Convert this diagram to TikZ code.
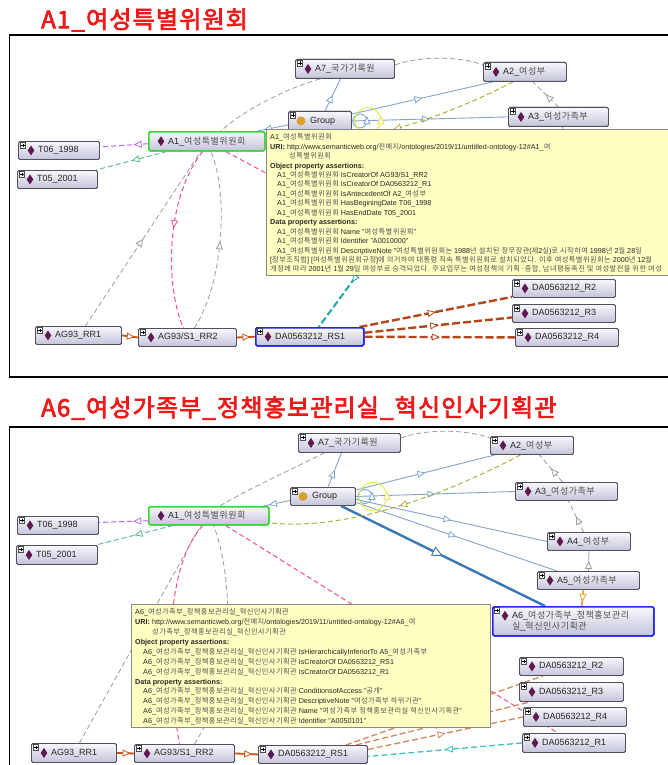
\documentclass[tikz,border=0pt]{standalone}
\usepackage{fontspec}
\setmainfont{Liberation Sans}
\newfontfamily\krf{Noto Sans CJK KR}[LetterSpace=6]
\newfontfamily\krtitle{Noto Sans CJK KR}[FakeBold=3,LetterSpace=5]
\usetikzlibrary{arrows.meta,decorations.markings}
\definecolor{cedgeblue}{HTML}{7EA6CE}
\definecolor{cthickblue}{HTML}{3A78B4}
\definecolor{cgreyd}{HTML}{9C9C9C}
\definecolor{colive}{HTML}{B3AE3C}
\definecolor{cpurp}{HTML}{C065E6}
\definecolor{cgreen}{HTML}{5CC08A}
\definecolor{cpink}{HTML}{F2508E}
\definecolor{cyellow}{HTML}{E2EE3A}
\definecolor{cbrown}{HTML}{B4461C}
\definecolor{cbrownl}{HTML}{D4865E}
\definecolor{corange}{HTML}{F0A028}
\definecolor{cteal}{HTML}{1BA8A8}
\definecolor{cteall}{HTML}{3EC0C4}
\definecolor{cnodetop}{HTML}{F7F7FD}
\definecolor{cnodebot}{HTML}{C4C4DA}
\definecolor{cnodeborder}{HTML}{50505F}
\definecolor{cselgreen}{HTML}{39D739}
\definecolor{cselblue}{HTML}{2626F2}
\definecolor{cdia}{HTML}{5E1A50}
\definecolor{cgrp}{HTML}{D9A22E}
\definecolor{ctipfill}{HTML}{FFFFC2}
\definecolor{ctipborder}{HTML}{8A8A8A}
\definecolor{ctitlered}{HTML}{F01818}
\definecolor{ckrgray}{HTML}{505050}
\newcommand\kr[1]{{\krf\color{ckrgray}#1}}
\newcommand\tAone{A1\_\kr{여성특별위원회}}
\newcommand\tAsix{A6\_\kr{여성가족부}\_\kr{정책홍보관리실}\_\kr{혁신인사기획관}}
\tikzset{
  indbox/.style={draw=cnodeborder,line width=0.9pt,rounded corners=1.5pt,top color=cnodetop,bottom color=cnodebot,inner sep=0pt,anchor=north west},
  lbl/.style={anchor=west,inner sep=0pt,font=\fontsize{9}{11}\selectfont,text=black!85},
  tri/.style={postaction={decorate,decoration={markings,mark=at position #1 with {\pgfsetdash{}{0pt}\arrow{Triangle[length=8pt,width=7pt,line width=0.8pt,fill=white]}}}}},
  tri/.default=0.5,
  trib/.style={postaction={decorate,decoration={markings,mark=at position #1 with {\pgfsetdash{}{0pt}\arrow{Triangle[length=11pt,width=10pt,line width=0.9pt,fill=white]}}}}},
  trib/.default=0.5,
  blueE/.style={draw=cedgeblue,line width=0.9pt},
  blueT/.style={draw=cthickblue,line width=2.4pt},
  greyD/.style={draw=cgreyd,line width=0.8pt,dash pattern=on 5pt off 3pt},
  greyS/.style={draw=cgreyd,line width=0.8pt},
  oliveD/.style={draw=colive,line width=1pt,dash pattern=on 5pt off 3pt},
  purpD/.style={draw=cpurp,line width=1pt,dash pattern=on 5pt off 3pt},
  greenD/.style={draw=cgreen,line width=1pt,dash pattern=on 5pt off 3pt},
  pinkD/.style={draw=cpink,line width=1pt,dash pattern=on 5pt off 3pt},
  brownT/.style={draw=cbrown,line width=2.4pt,dash pattern=on 8pt off 3pt},
  brownLd/.style={draw=cbrownl,line width=1.3pt,dash pattern=on 6pt off 3pt},
  brownS/.style={draw=cbrown!75!orange,line width=1.8pt},
  tealD/.style={draw=cteal,line width=2pt,dash pattern=on 7pt off 3pt},
  tealLd/.style={draw=cteall,line width=1.3pt,dash pattern=on 6pt off 3pt},
  orangeE/.style={draw=corange,line width=1.6pt},
  yellowE/.style={draw=cyellow,line width=0.9pt},
  tipbox/.style={draw=ctipborder,fill=ctipfill,line width=1.2pt,anchor=north west,inner sep=0pt},
  frame/.style={draw=black,line width=1.6pt},
  titlest/.style={anchor=west,inner sep=0pt,text=ctitlered,font=\krtitle\fontsize{24}{28}\selectfont}
}
\newcommand\plusmark[1]{%
  \draw[draw=black!70,line width=0.4pt,fill=white] ([shift={(2pt,-1.5pt)}]#1.north west) rectangle +(5.5pt,-5.5pt);
  \draw[black,line width=0.5pt] ([shift={(4.75pt,-2.5pt)}]#1.north west) -- +(0pt,-3.5pt) ([shift={(3pt,-4.25pt)}]#1.north west) -- +(3.5pt,0pt);}
\newcommand\ind[7][]{%
  \node[indbox,minimum width=#5pt,minimum height=#6pt,#1] (#2) at (#3,#4) {};
  \fill[cdia] ([xshift=13pt]#2.west) +(0pt,5pt) -- +(3.3pt,0pt) -- +(0pt,-5pt) -- +(-3.3pt,0pt) -- cycle;
  \node[lbl] (#2-l) at ([xshift=20pt]#2.west) {#7};}
\newcommand\grp[5]{%
  \node[indbox,minimum width=#4pt,minimum height=#5pt] (#1) at (#2,#3) {};
  \fill[cgrp] ([xshift=13pt]#1.west) circle (4.5pt);
  \node[lbl] (#1-l) at ([xshift=22pt]#1.west) {Group};
  \plusmark{#1}}
\begin{document}
\begin{tikzpicture}[x=1pt,y=-1pt]
\useasboundingbox (0,0) rectangle (668,765);
\clip (0,0) rectangle (668,765);
\fill[white] (0,0) rectangle (668,765);
% ---------------- titles and frames
\node[titlest] (title1) at (41,20) {A1\_여성특별위원회};
\node[titlest] (title2) at (41,408) {A6\_여성가족부\_정책홍보관리실\_혁신인사기획관};
\draw[frame] (9.5,35) rectangle (690,377);
\draw[frame] (9.5,427) rectangle (690,790);

\coordinate (r1h) at (385,237);
\coordinate (a4h) at (578,205);

% ================= TOP PANEL nodes (for anchors)
\ind{a7}{295}{59}{99}{19}{A7\_\kr{국가기록원}}
\ind{a2}{483}{62}{83}{19}{A2\_\kr{여성부}}
\grp{grp}{288}{111}{63}{19}
\ind{a3}{508}{107}{100}{19}{A3\_\kr{여성가족부}}
\ind[draw=cselgreen,line width=1.5pt]{a1}{148}{131}{116}{19}{A1\_\kr{여성특별위원회}}
\ind{t06}{18}{141}{81}{18}{T06\_1998}
\ind{t05}{17}{170}{80}{18}{T05\_2001}
\ind{r2}{512}{279}{103}{18}{DA0563212\_R2}
\ind{r3}{512}{304}{103}{18}{DA0563212\_R3}
\ind{r4}{515}{328}{103}{18}{DA0563212\_R4}
\ind{rr1}{35}{326}{86}{18}{AG93\_RR1}
\ind{rr2}{138}{328}{98}{18}{AG93/S1\_RR2}
\ind[draw=cselblue,line width=1.5pt]{rs1}{255}{327}{108}{18}{DA0563212\_RS1}

% --- top edges
\draw[blueE,tri] ([xshift=5pt]grp.north) -- ([xshift=-4.5pt]a7.south);
\draw[blueE,tri] ([yshift=-3pt]grp.north east) -- ([xshift=10pt]a2.south west);
\draw[blueE,tri] (grp.east) -- (a3.west);
\draw[blueE,tri=0.8] ([yshift=-4pt]grp.west) -- ([xshift=-8pt]a1.north east);
\draw[blueE] ([xshift=8pt]grp.east) circle (7pt);
\draw[yellowE] ([shift={(16pt,0.5pt)}]grp.east) circle (13pt);
\draw[blueE,fill=white] ([xshift=15pt]grp.east) +(0pt,4pt) -- +(-3pt,-3pt) -- +(3pt,-3pt) -- cycle;
\draw[yellowE,fill=white] ([xshift=29pt]grp.east) +(0pt,4pt) -- +(-3pt,-3pt) -- +(3pt,-3pt) -- cycle;
\draw[greyD] ([xshift=-25pt]a7.south) .. controls (295,86) and (250,105) .. ([xshift=14pt]a1.north);
\draw[greyD] ([yshift=4pt]a7.east) .. controls (420,56) and (460,56) .. ([yshift=-3pt]a2.north west);
\draw[greyD,tri] (a3.north) -- ([xshift=8pt]a2.south);
\draw[greyD] ([xshift=4pt]a3.south) -- (a4h);
\draw[oliveD,tri] ([xshift=-12pt]a2.south) .. controls (412,134) and (322,150) .. ([yshift=-2pt]a1.east);
\draw[purpD,tri=0.3] ([yshift=-2.5pt]a1.west) -- ([yshift=3.5pt]t06.east);
\draw[greenD,tri] ([xshift=19pt]a1.south west) -- ([xshift=-2pt]t05.north east);
\draw[greyD,tri] ([xshift=7pt]rr1.north) -- ([xshift=-6pt]a1.south);
\draw[pinkD,tri=0.45] ([xshift=-4pt]a1.south) .. controls (164,200) and (166,290) .. ([xshift=-4pt]rr2.north);
\draw[greyD,tri] ([xshift=7pt]rr2.north) .. controls (225,280) and (228,190) .. ([xshift=4pt]a1.south);
\draw[pinkD] ([xshift=19pt]a1.south) -- (r1h);
\draw[tealD,tri] (r1h) -- ([xshift=9pt]rs1.north);
\draw[brownT,tri] ([xshift=-5pt]rs1.north east) -- ([yshift=1pt]r2.south west);
\draw[brownT,tri] ([yshift=4pt]rs1.east) -- ([yshift=-4pt]r3.west);
\draw[brownT,tri] (rs1.east) -- (r4.west);
\draw[brownS,tri=0.8] (rr1.east) -- (rr2.west);
\draw[brownS,tri=0.75] (rr2.east) -- (rs1.west);

% redraw top nodes over edges
\ind{a7}{295}{59}{99}{19}{A7\_\kr{국가기록원}}\plusmark{a7}
\ind{a2}{483}{62}{83}{19}{A2\_\kr{여성부}}\plusmark{a2}
\grp{grp}{288}{111}{63}{19}
\ind{a3}{508}{107}{100}{19}{A3\_\kr{여성가족부}}\plusmark{a3}
\ind[draw=cselgreen,line width=1.5pt]{a1}{148}{131}{116}{19}{A1\_\kr{여성특별위원회}}
\ind{t06}{18}{141}{81}{18}{T06\_1998}\plusmark{t06}
\ind{t05}{17}{170}{80}{18}{T05\_2001}\plusmark{t05}
\ind{r2}{512}{279}{103}{18}{DA0563212\_R2}\plusmark{r2}
\ind{r3}{512}{304}{103}{18}{DA0563212\_R3}\plusmark{r3}
\ind{r4}{515}{328}{103}{18}{DA0563212\_R4}\plusmark{r4}
\ind{rr1}{35}{326}{86}{18}{AG93\_RR1}\plusmark{rr1}
\ind{rr2}{138}{328}{98}{18}{AG93/S1\_RR2}\plusmark{rr2}
\ind[draw=cselblue,line width=1.5pt]{rs1}{255}{327}{108}{18}{DA0563212\_RS1}\plusmark{rs1}

% top tooltip
\node[tipbox,minimum width=440pt,minimum height=146pt] (tip1) at (266,129) {};
\node[anchor=north west,inner sep=0pt,align=left,font=\fontsize{7.2}{9.45}\selectfont,text=black!85] (tip1t) at (270,133.5) {%
\tAone\\
\textbf{URI:} http://www.semanticweb.org/\kr{전예지}/ontologies/2019/11/untitled-ontology-12\#A1\_\kr{여}\\
\hspace*{19pt}\kr{성특별위원회}\\
\textbf{Object property assertions:}\\
\hspace*{7pt}\tAone{} IsCreatorOf AG93/S1\_RR2\\
\hspace*{7pt}\tAone{} IsCreatorOf DA0563212\_R1\\
\hspace*{7pt}\tAone{} IsAntecedentOf A2\_\kr{여성부}\\
\hspace*{7pt}\tAone{} HasBeginingDate T06\_1998\\
\hspace*{7pt}\tAone{} HasEndDate T05\_2001\\
\textbf{Data property assertions:}\\
\hspace*{7pt}\tAone{} Name "\kr{여성특별위원회}"\\
\hspace*{7pt}\tAone{} Identifier "A0010000"\\
\hspace*{7pt}\tAone{} DescriptiveNote "\kr{여성특별위원회는} 1988\kr{년 설치된 정무장관}(\kr{제}2\kr{실})\kr{로 시작하여} 1998\kr{년} 2\kr{월} 28\kr{일}\\
\relax{[}\kr{정부조직법}{]} {[}\kr{여성특별위원회규정}{]}\kr{에 의거하여 대통령 직속 특별위원회로 설치되었다. 이후 여성특별위원회는} 2000\kr{년} 12\kr{월}\\
\kr{개정에 따라} 2001\kr{년} 1\kr{월} 29\kr{일 여성부로 승격되었다. 주요업무는 여성정책의 기획·종합, 남녀평등촉진 및 여성발전을 위한 여성}};

% ================= BOTTOM PANEL nodes (for anchors)
\ind{a7b}{298}{433}{102}{19}{A7\_\kr{국가기록원}}
\ind{a2b}{490}{436}{83}{18}{A2\_\kr{여성부}}
\grp{grpb}{290}{487}{65}{18}
\ind{a3b}{515}{482}{102}{18}{A3\_\kr{여성가족부}}
\ind[draw=cselgreen,line width=1.5pt]{a1b}{148}{506}{120}{18}{A1\_\kr{여성특별위원회}}
\ind{t06b}{17}{516}{81}{18}{T06\_1998}
\ind{t05b}{16}{545}{81}{19}{T05\_2001}
\ind{a4b}{547}{532}{83}{18}{A4\_\kr{여성부}}
\ind{a5b}{537}{571}{102}{18}{A5\_\kr{여성가족부}}
\node[indbox,minimum width=161pt,minimum height=29pt,draw=cselblue,line width=1.5pt] (a6b) at (492,606) {};
\ind{r2b}{519}{657}{104}{18}{DA0563212\_R2}
\ind{r3b}{519}{682}{104}{19}{DA0563212\_R3}
\ind{r4b}{523}{707}{103}{19}{DA0563212\_R4}
\ind{r1b}{522}{733}{103}{19}{DA0563212\_R1}
\ind{rr1b}{31}{743}{85}{19}{AG93\_RR1}
\ind{rr2b}{134}{744}{100}{18}{AG93/S1\_RR2}
\ind{rs1b}{258}{745}{109}{18}{DA0563212\_RS1}

% bottom edges
\draw[blueE,tri] ([xshift=5pt]grpb.north) -- ([xshift=-8pt]a7b.south);
\draw[blueE,tri] ([yshift=-3pt]grpb.north east) -- ([xshift=5pt]a2b.south west);
\draw[blueE,tri] (grpb.east) -- (a3b.west);
\draw[blueE,tri] ([yshift=-3pt]grpb.east) -- (a4b.west);
\draw[blueE,tri] ([yshift=-6pt]grpb.east) -- ([xshift=20pt]a5b.north west);
\draw[blueE,tri=0.8] ([yshift=-4pt]grpb.west) -- ([xshift=-6pt]a1b.north east);
\draw[blueT,trib] ([xshift=18pt]grpb.south) -- ([xshift=53pt]a6b.north west);
\draw[blueE] ([xshift=9pt]grpb.east) circle (7pt);
\draw[yellowE] ([xshift=17pt]grpb.east) circle (14pt);
\draw[blueE,fill=white] ([xshift=16pt]grpb.east) +(0pt,4pt) -- +(-3pt,-3pt) -- +(3pt,-3pt) -- cycle;
\draw[yellowE,fill=white] ([xshift=31pt]grpb.east) +(0pt,4pt) -- +(-3pt,-3pt) -- +(3pt,-3pt) -- cycle;
\draw[orangeE,tri=0.75] ([xshift=-5pt]a5b.south) -- ([xshift=8.5pt]a6b.north);
\draw[greyS,tri] (a5b.north) -- (a4b.south);
\draw[greyD,tri] ([xshift=-5.5pt]a4b.north) -- ([xshift=2pt]a3b.south);
\draw[greyD,tri] ([xshift=-4pt]a3b.north) -- ([xshift=7.5pt]a2b.south);
\draw[greyD] ([yshift=5pt]a7b.east) .. controls (425,429) and (465,429) .. ([yshift=-2pt]a2b.north west);
\draw[greyD] ([xshift=-25pt]a7b.south) .. controls (290,470) and (250,488) .. ([xshift=11pt]a1b.north);
\draw[oliveD,tri] ([xshift=-11.5pt]a2b.south) .. controls (420,508) and (330,530) .. ([yshift=-7pt]a1b.east);
\draw[purpD,tri=0.3] ([yshift=-5pt]a1b.west) -- ([yshift=3pt]t06b.east);
\draw[greenD,tri] ([xshift=25pt]a1b.south west) -- ([xshift=-2pt]t05b.north east);
\draw[greyD,tri] ([xshift=5.5pt]rr1b.north) -- ([xshift=-8pt]a1b.south);
\draw[pinkD,tri] ([xshift=-6pt]a1b.south) .. controls (162,570) and (168,680) .. ([xshift=-5pt]rr2b.north);
\draw[greyD,tri] ([xshift=10pt]rr2b.north) .. controls (236,680) and (234,580) .. ([xshift=5pt]a1b.south);
\draw[pinkD,tri] ([xshift=17pt]a1b.south) -- ([xshift=36pt]r1b.north west);
\draw[brownLd,tri] ([xshift=-22pt]rs1b.north east) -- ([xshift=24pt]r2b.south west);
\draw[brownLd,tri] ([xshift=-12pt]rs1b.north east) -- ([xshift=11pt]r3b.south west);
\draw[brownLd,tri] ([yshift=5pt]rs1b.east) -- (r4b.west);
\draw[tealLd,tri] (r1b.west) -- ([yshift=-2pt]rs1b.east);
\draw[brownS,tri=0.8] (rr1b.east) -- (rr2b.west);
\draw[brownS,tri=0.75] (rr2b.east) -- (rs1b.west);

% redraw bottom nodes over edges
\ind{a7b}{298}{433}{102}{19}{A7\_\kr{국가기록원}}\plusmark{a7b}
\ind{a2b}{490}{436}{83}{18}{A2\_\kr{여성부}}\plusmark{a2b}
\grp{grpb}{290}{487}{65}{18}
\ind{a3b}{515}{482}{102}{18}{A3\_\kr{여성가족부}}\plusmark{a3b}
\ind[draw=cselgreen,line width=1.5pt]{a1b}{148}{506}{120}{18}{A1\_\kr{여성특별위원회}}
\ind{t06b}{17}{516}{81}{18}{T06\_1998}\plusmark{t06b}
\ind{t05b}{16}{545}{81}{19}{T05\_2001}\plusmark{t05b}
\ind{a4b}{547}{532}{83}{18}{A4\_\kr{여성부}}\plusmark{a4b}
\ind{a5b}{537}{571}{102}{18}{A5\_\kr{여성가족부}}\plusmark{a5b}
\node[indbox,minimum width=161pt,minimum height=29pt,draw=cselblue,line width=1.5pt] (a6b) at (492,606) {};
\fill[cdia] ([shift={(13pt,5.5pt)}]a6b.west) +(0pt,5pt) -- +(3.3pt,0pt) -- +(0pt,-5pt) -- +(-3.3pt,0pt) -- cycle;
\node[lbl,align=left] (a6b-l) at ([xshift=20pt]a6b.west) {A6\_\kr{여성가족부}\_\kr{정책홍보관리}\\\kr{실}\_\kr{혁신인사기획관}};
\plusmark{a6b}
\ind{r2b}{519}{657}{104}{18}{DA0563212\_R2}\plusmark{r2b}
\ind{r3b}{519}{682}{104}{19}{DA0563212\_R3}\plusmark{r3b}
\ind{r4b}{523}{707}{103}{19}{DA0563212\_R4}\plusmark{r4b}
\ind{r1b}{522}{733}{103}{19}{DA0563212\_R1}\plusmark{r1b}
\ind{rr1b}{31}{743}{85}{19}{AG93\_RR1}\plusmark{rr1b}
\ind{rr2b}{134}{744}{100}{18}{AG93/S1\_RR2}\plusmark{rr2b}
\ind{rs1b}{258}{745}{109}{18}{DA0563212\_RS1}\plusmark{rs1b}

% bottom tooltip
\node[tipbox,minimum width=359pt,minimum height=123pt] (tip2) at (131,604) {};
\node[anchor=north west,inner sep=0pt,align=left,font=\fontsize{7.2}{9.9}\selectfont,text=black!85] (tip2t) at (135,608.5) {%
\tAsix\\
\textbf{URI:} http://www.semanticweb.org/\kr{전예지}/ontologies/2019/11/untitled-ontology-12\#A6\_\kr{여}\\
\hspace*{17pt}\kr{성가족부}\_\kr{정책홍보관리실}\_\kr{혁신인사기획관}\\
\textbf{Object property assertions:}\\
\hspace*{8pt}\tAsix{} IsHierarchicallyInferiorTo A5\_\kr{여성가족부}\\
\hspace*{8pt}\tAsix{} IsCreatorOf DA0563212\_RS1\\
\hspace*{8pt}\tAsix{} IsCreatorOf DA0563212\_R1\\
\textbf{Data property assertions:}\\
\hspace*{8pt}\tAsix{} ConditionsofAccess "\kr{공개}"\\
\hspace*{8pt}\tAsix{} DescriptiveNote "\kr{여성가족부 하위기관}"\\
\hspace*{8pt}\tAsix{} Name "\kr{여성가족부 정책홍보관리실 혁신인사기획관}"\\
\hspace*{8pt}\tAsix{} Identifier "A0050101"};
\end{tikzpicture}
\end{document}
